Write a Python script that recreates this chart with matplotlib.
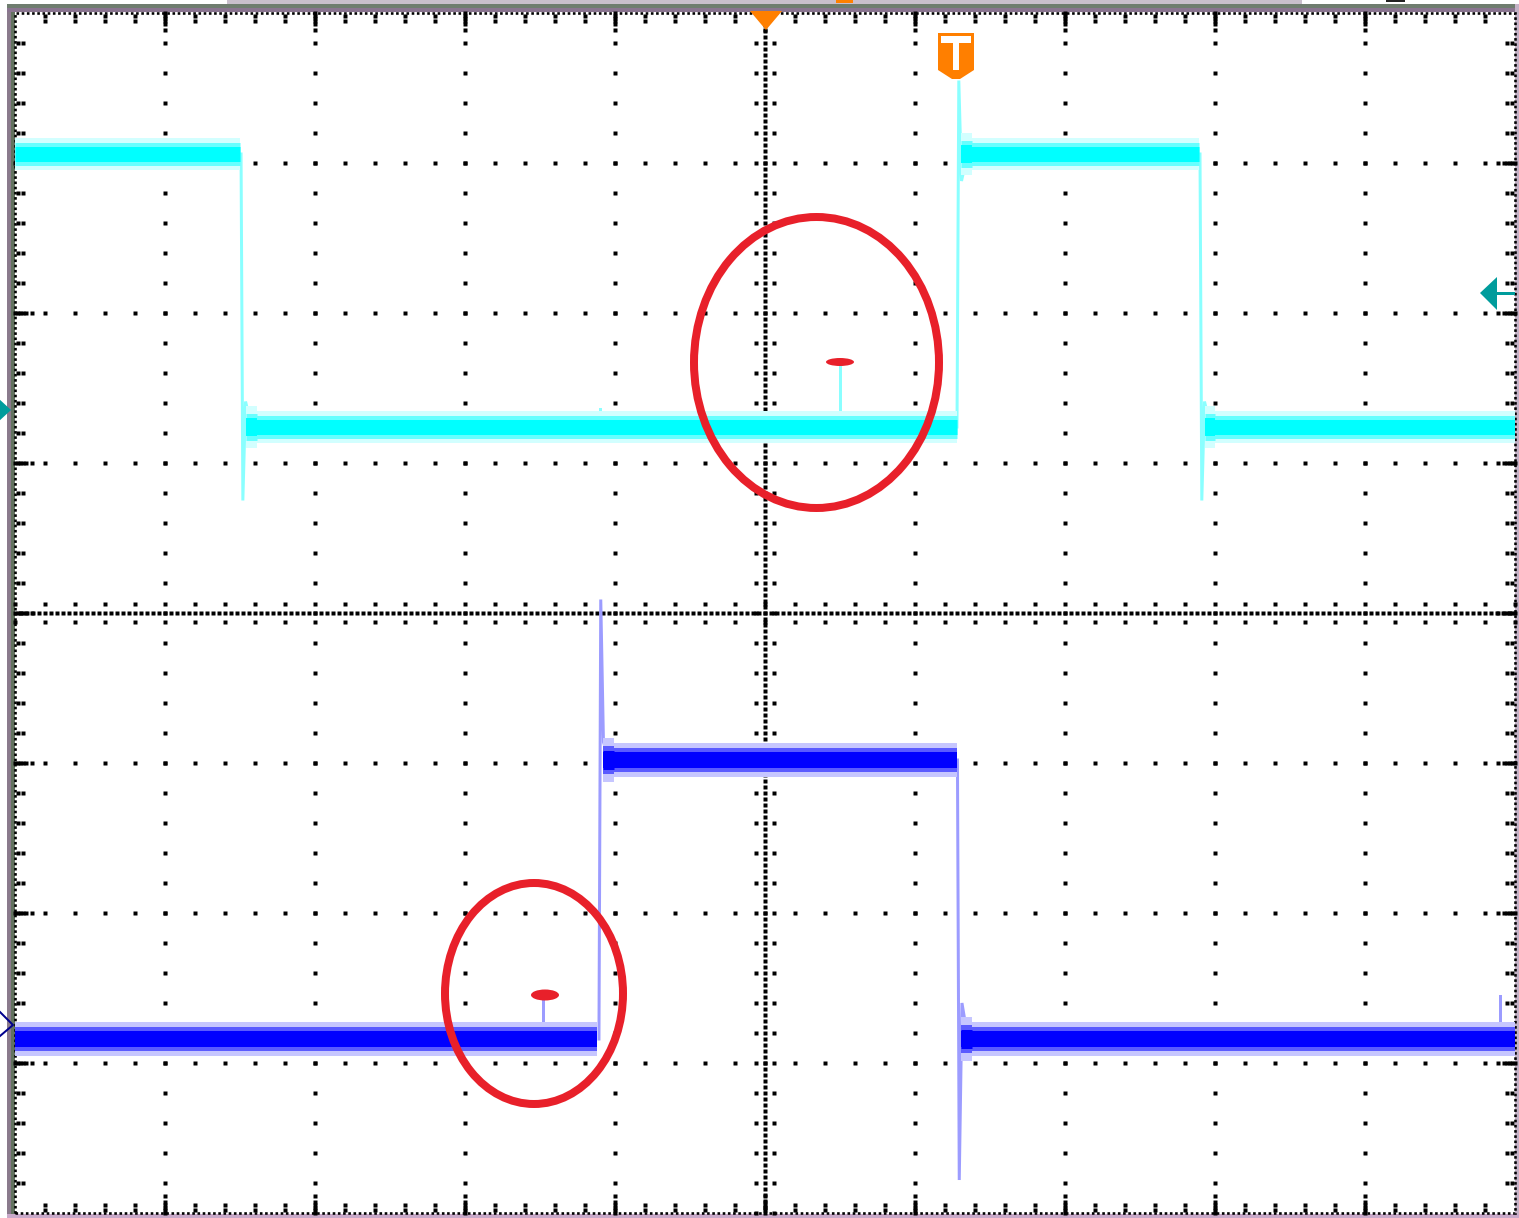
import numpy as np
import matplotlib
matplotlib.use("Agg")
import matplotlib.pyplot as plt
from matplotlib.patches import Ellipse, Polygon, Rectangle

W, H, DPI = 1519, 1218, 100
PT = 72.0 / DPI  # points per pixel

# ---------------------------------------------------------------------------
# Scope data, in screen divisions (10 horizontal x 8 vertical, centre = 0)
# ---------------------------------------------------------------------------
# Channel 1 (cyan): flat levels between edges
ch1_seg_start = [0.00, 1.54, 6.31, 7.93]
ch1_seg_end = [1.50, 6.28, 7.89, 10.00]
ch1_seg_level = [3.06, 1.24, 3.06, 1.24]
# Channel 1 edges: time, level before, spike peak, ring value, level after
ch1_edge_t = [1.507, 6.280, 7.900]
ch1_edge_from = [3.06, 1.24, 3.06]
ch1_edge_peak = [0.75, 3.55, 0.75]
ch1_edge_ring = [1.41, 2.88, 1.41]
ch1_edge_to = [1.24, 3.06, 1.24]
# Channel 1 short glitches on the low level
ch1_glitch_t = [5.50, 3.90]
ch1_glitch_peak = [1.66, 1.36]

# Channel 2 (blue)
ch2_seg_start = [0.00, 3.92, 6.31]
ch2_seg_end = [3.88, 6.28, 10.00]
ch2_seg_level = [-2.84, -0.98, -2.84]
ch2_edge_t = [3.893, 6.283]
ch2_edge_from = [-2.84, -0.98]
ch2_edge_peak = [0.09, -3.78]
ch2_edge_ring = [-0.86, -2.60]
ch2_edge_to = [-0.98, -2.84]
ch2_glitch_t = [3.52, 9.90]
ch2_glitch_peak = [-2.58, -2.55]


def P(px, py):
    """Screen pixel -> division coordinates (for decorations only)."""
    return ((px - 15) / 150.0, (613 - py) / 150.0)


fig = plt.figure(figsize=(W / DPI, H / DPI), dpi=DPI)
fig.patch.set_facecolor("white")

# ---- instrument frame around the graticule --------------------------------
bg = fig.add_axes([0, 0, 1, 1])
bg.set_xlim(0, W)
bg.set_ylim(H, 0)
bg.axis("off")
bg.add_patch(Rectangle((7, 4), 4, H - 4, color="#8a7a8c", lw=0))
bg.add_patch(Rectangle((11, 4), 4, H - 4, color="#62725f", lw=0))
bg.add_patch(Rectangle((7, 4), W - 7, 4, color="#6f7d6f", lw=0))
bg.add_patch(Rectangle((7, 8), W - 7, 4, color="#8a7590", lw=0))
bg.add_patch(Rectangle((227, 0), 1075, 4, color="#c9bfcc", lw=0))
bg.add_patch(Rectangle((1386, 0), 19, 2, color="#222222", lw=0))
bg.add_patch(Rectangle((836, 0), 17, 3, color="#ff8000", lw=0))
bg.add_patch(Rectangle((1515, 4), 4, H, color="#c4b2c6", lw=0))
bg.add_patch(Rectangle((7, 1214), W - 7, 4, color="#c9a9c9", lw=0))

# ---- graticule axes ---------------------------------------------------------
ax = fig.add_axes([15 / W, 5 / H, 1500 / W, 1200 / H])
ax.set_xlim(0, 10)
ax.set_ylim(-4, 4)
ax.patch.set_facecolor("white")
ax.axis("off")

dot_kw = dict(ls="none", marker="s", ms=2.3, mfc="black", mec="none", zorder=1,
              clip_on=False)
xs_minor = np.round(np.arange(0, 10 + 1e-9, 0.2), 3)
ys_minor = np.round(np.arange(-4, 4 + 1e-9, 0.2), 3)

for xv in range(1, 10):
    if xv != 5:
        ax.plot(np.full_like(ys_minor, xv), ys_minor, **dot_kw)
for yv in range(-3, 4):
    if yv != 0:
        ax.plot(xs_minor, np.full_like(xs_minor, yv), **dot_kw)

# centre axes: fine dots with small cross ticks
fine_x = np.arange(0, 10 + 1e-9, 0.04)
fine_y = np.arange(-4, 4 + 1e-9, 0.04)
ax.plot(fine_x, np.zeros_like(fine_x), **dot_kw)
ax.plot(np.full_like(fine_y, 5.0), fine_y, **dot_kw)
for off in (-0.06, 0.06):
    ax.plot(xs_minor, np.full_like(xs_minor, off), **dot_kw)
    ax.plot(np.full_like(ys_minor, 5.0 + off), ys_minor, **dot_kw)

# edge ticks
inner_x = xs_minor[1:-1]
inner_y = ys_minor[1:-1]
for d in (0.02, 0.053):
    ax.plot(inner_x, np.full_like(inner_x, 4 - d), **dot_kw)
    ax.plot(inner_x, np.full_like(inner_x, -4 + d), **dot_kw)
    ax.plot(np.full_like(inner_y, d), inner_y, **dot_kw)
    ax.plot(np.full_like(inner_y, 10 - d), inner_y, **dot_kw)
major_x = np.arange(1, 10)
major_y = np.arange(-3, 4)
for d in (0.033, 0.073, 0.113):
    ax.plot(major_x, np.full_like(major_x, 4 - d, dtype=float), **dot_kw)
    ax.plot(major_x, np.full_like(major_x, -4 + d, dtype=float), **dot_kw)
    ax.plot(np.full_like(major_y, d, dtype=float), major_y, **dot_kw)
    ax.plot(np.full_like(major_y, 10 - d, dtype=float), major_y, **dot_kw)

ax.add_patch(Rectangle((0, -4), 10, 8, fill=False, ec="black", lw=2.6 * PT,
                       ls=(0, (1, 1)), zorder=2, clip_on=False))


# ---- traces -----------------------------------------------------------------
def level_at(t, starts, ends, levels):
    for s, e, v in zip(starts, ends, levels):
        if s - 0.05 <= t <= e + 0.05:
            return v
    return levels[-1]


def draw_trace(seg_start, seg_end, seg_level, e_t, e_from, e_peak, e_ring, e_to,
               g_t, g_peak, core, mid, halo, edge_col, core_px, halo_px):
    # switching edges (thin, faint)
    for t, a, p, r, b in zip(e_t, e_from, e_peak, e_ring, e_to):
        ax.plot([t, t + 0.012, t + 0.03, t + 0.07], [a, p, r, b], color=edge_col,
                lw=3 * PT, solid_joinstyle="miter", zorder=3)
    # glitches
    for t, p in zip(g_t, g_peak):
        base = level_at(t, seg_start, seg_end, seg_level)
        ax.plot([t, t], [base, p], color=edge_col, lw=3 * PT, zorder=3)
    # noisy flat levels: halo + mid + core
    for i, (s, e, v) in enumerate(zip(seg_start, seg_end, seg_level)):
        ax.plot([s, e], [v, v], color=halo, lw=halo_px * PT,
                solid_capstyle="butt", zorder=4)
        ax.plot([s, e], [v, v], color=mid, lw=(core_px + 8) * PT,
                solid_capstyle="butt", zorder=4)
        ax.plot([s, e], [v, v], color=core, lw=core_px * PT,
                solid_capstyle="butt", zorder=5)
        if i > 0:
            # ringing right after an edge widens the band a little
            ax.plot([s, s + 0.07], [v, v], color=halo, lw=(halo_px + 10) * PT,
                    solid_capstyle="butt", zorder=4)
            ax.plot([s, s + 0.07], [v, v], color=mid, lw=(core_px + 12) * PT,
                    solid_capstyle="butt", zorder=4)
            ax.plot([s, s + 0.07], [v, v], color=core, lw=(core_px + 3) * PT,
                    solid_capstyle="butt", zorder=5)


draw_trace(ch1_seg_start, ch1_seg_end, ch1_seg_level, ch1_edge_t, ch1_edge_from,
           ch1_edge_peak, ch1_edge_ring, ch1_edge_to, ch1_glitch_t,
           ch1_glitch_peak, core="#00ffff", mid="#66ffff", halo="#d2ffff",
           edge_col="#8affff", core_px=15, halo_px=32)
draw_trace(ch2_seg_start, ch2_seg_end, ch2_seg_level, ch2_edge_t, ch2_edge_from,
           ch2_edge_peak, ch2_edge_ring, ch2_edge_to, ch2_glitch_t,
           ch2_glitch_peak, core="#0000ff", mid="#5a5aff", halo="#c6c6ff",
           edge_col="#9c9cff", core_px=16, halo_px=34)

# ---- channel / trigger markers ---------------------------------------------
orange = "#ff7f00"
ax.add_patch(Polygon([P(750, 11), P(782, 11), P(766, 30)], closed=True,
                     color=orange, lw=0, zorder=8, clip_on=False))
ax.add_patch(Polygon([P(938, 33), P(974, 33), P(974, 70), P(960, 79), P(952, 79),
                      P(938, 70)], closed=True, color=orange, lw=0, zorder=8,
                     clip_on=False))
ax.add_patch(Polygon([P(941, 36), P(971, 36), P(971, 43), P(941, 43)],
                     closed=True, color="white", lw=0, zorder=9, clip_on=False))
ax.add_patch(Polygon([P(953, 43), P(959, 43), P(959, 70), P(953, 70)],
                     closed=True, color="white", lw=0, zorder=9, clip_on=False))

teal = "#009c9c"
ax.add_patch(Polygon([P(1480, 293), P(1497, 277), P(1497, 310)], closed=True,
                     color=teal, lw=0, zorder=8, clip_on=False))
x0, y0 = P(1496, 293)
x1, _ = P(1513, 293)
ax.plot([x0, x1], [y0, y0], color=teal, lw=3 * PT, zorder=8, clip_on=False)
ax.add_patch(Polygon([P(-2, 398), P(11, 410), P(-2, 422)], closed=True,
                     color=teal, lw=0, zorder=8, clip_on=False))

bx, by = zip(P(0, 1012), P(13, 1025), P(0, 1036))
ax.plot(bx, by, color="#00008c", lw=2 * PT, zorder=8, clip_on=False)

# ---- hand-drawn annotations -------------------------------------------------
red = "#e8202a"
ax.add_patch(Ellipse(P(816.5, 362.5), 245 / 150, 291 / 150, fill=False, ec=red,
                     lw=8 * PT, zorder=10))
ax.add_patch(Ellipse(P(534, 993.5), 178 / 150, 221 / 150, fill=False, ec=red,
                     lw=8 * PT, zorder=10))
ax.add_patch(Ellipse(P(840, 362), 28 / 150, 8 / 150, color=red, lw=0, zorder=10))
ax.add_patch(Ellipse(P(545, 995), 28 / 150, 11 / 150, color=red, lw=0, zorder=10))

fig.savefig("out.png", dpi=DPI, facecolor="white")
